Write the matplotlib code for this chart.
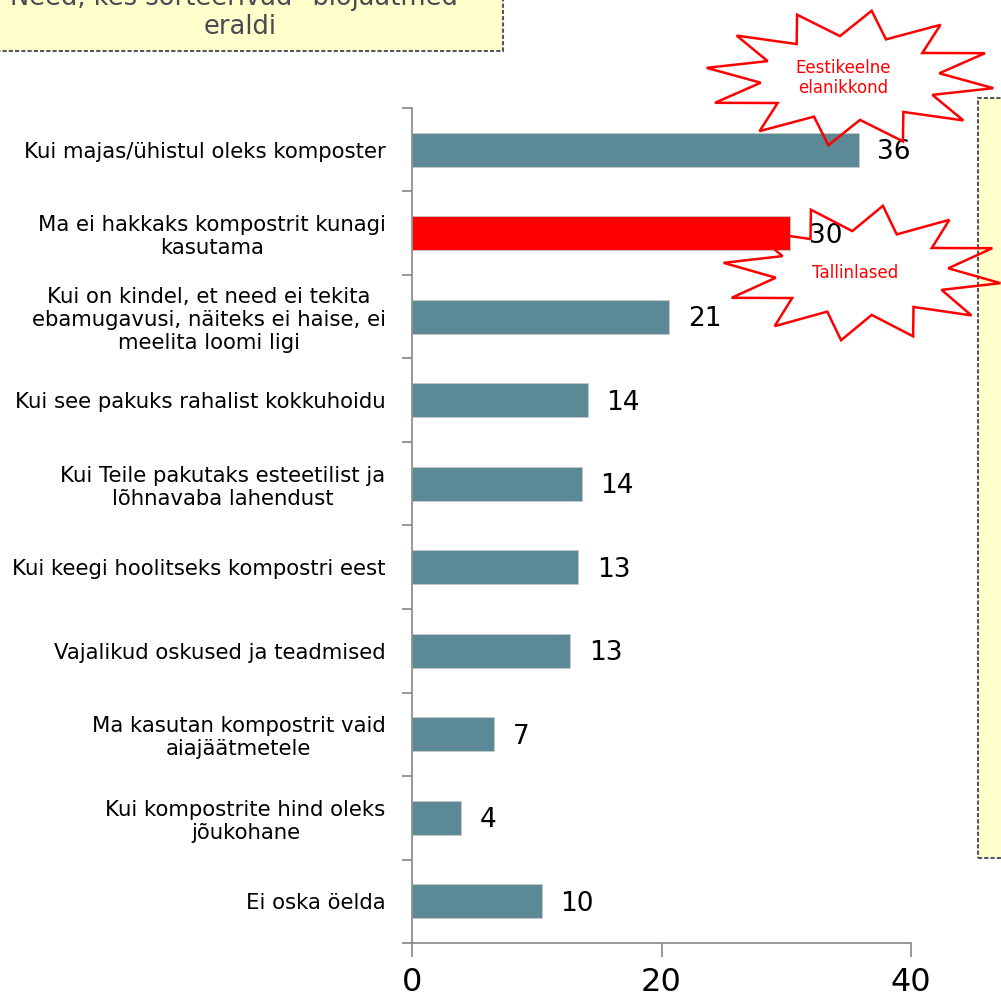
import numpy as np
import matplotlib.pyplot as plt
from matplotlib.patches import Polygon, Rectangle

# Survey answers (share of respondents, %)
categories = [
    "Kui majas/ühistul oleks komposter",
    "Ma ei hakkaks kompostrit kunagi\nkasutama",
    "Kui on kindel, et need ei tekita\nebamugavusi, näiteks ei haise, ei\nmeelita loomi ligi",
    "Kui see pakuks rahalist kokkuhoidu",
    "Kui Teile pakutaks esteetilist ja\nlõhnavaba lahendust",
    "Kui keegi hoolitseks kompostri eest",
    "Vajalikud oskused ja teadmised",
    "Ma kasutan kompostrit vaid\naiajäätmetele",
    "Kui kompostrite hind oleks\njõukohane",
    "Ei oska öelda",
]
values = [35.8, 30.3, 20.6, 14.1, 13.6, 13.3, 12.7, 6.6, 3.9, 10.4]
value_labels = ["36", "30", "21", "14", "14", "13", "13", "7", "4", "10"]
highlight = "Ma ei hakkaks kompostrit kunagi\nkasutama"
xticks = [0, 20, 40]

bar_color = "#5B8A96"
red = "#FF0000"
axis_gray = "#868686"

fig = plt.figure(figsize=(10.01, 9.99), dpi=100)
ax = fig.add_axes([0.4116, 0.056, 0.4985, 0.836])

y = np.arange(len(categories))
colors = [red if c == highlight else bar_color for c in categories]
ax.barh(y, values, height=0.41, color=colors, edgecolor="#c8c8c8", linewidth=0.6)

for yi, v, lab in zip(y, values, value_labels):
    ax.text(v + 1.5, yi + 0.03, lab, va="center", ha="left", fontsize=19, color="black")

ax.set_xlim(0, 40)
ax.set_ylim(len(categories) - 0.5, -0.5)
ax.set_xticks(xticks)
ax.set_xticklabels([str(t) for t in xticks], fontsize=23)
ax.set_yticks(np.arange(len(categories) + 1) - 0.5)
ax.set_yticklabels([])
ax.set_yticks(y, minor=True)
ax.set_yticklabels(categories, minor=True, fontsize=15.3, ha="right",
                   multialignment="center")
ax.tick_params(axis="y", which="minor", length=0, pad=19)
ax.tick_params(axis="y", which="major", length=7, color=axis_gray, width=1.2)
ax.tick_params(axis="x", length=10, color=axis_gray, width=1.2, pad=7)
for side in ["top", "right"]:
    ax.spines[side].set_visible(False)
for side in ["left", "bottom"]:
    ax.spines[side].set_color(axis_gray)
    ax.spines[side].set_linewidth(1.2)

# title box (top left, cut by the page edge)
fig.patches.append(Rectangle((-0.01, 0.949), 0.512, 0.07, transform=fig.transFigure,
                             facecolor="#FFFFCC", edgecolor="#555560", linewidth=1.5,
                             linestyle=(0, (2, 1))))
fig.text(0.24, 0.987, 'Need, kes sorteerivad "biojäätmed"\neraldi', ha="center",
         va="center", fontsize=18.5, color="#4A4A55", linespacing=1.15)

# note box on the right
fig.patches.append(Rectangle((0.977, 0.141), 0.05, 0.761, transform=fig.transFigure,
                             facecolor="#FFFFCC", edgecolor="#555560", linewidth=1.5,
                             linestyle=(0, (2, 1))))


def star(cx, cy, rx, ry, n, inner, rot):
    ang = np.linspace(0, 2 * np.pi, 2 * n, endpoint=False) + rot
    r = np.where(np.arange(2 * n) % 2 == 0, 1.0, inner)
    return np.column_stack([cx + rx * r * np.cos(ang), cy + ry * r * np.sin(ang)])


for (cx, cy, rx, ry, txt) in [(850, 78, 145, 68, "Eestikeelne\nelanikkond"),
                              (862, 273, 140, 68, "Tallinlased")]:
    pts = star(cx, cy, rx, ry, 12, 0.62, 0.15)
    pts = np.column_stack([pts[:, 0] / 1001, 1 - pts[:, 1] / 999])
    fig.patches.append(Polygon(pts, closed=True, transform=fig.transFigure,
                               facecolor="none", edgecolor=red, linewidth=1.8,
                               zorder=5))
    fig.text(cx / 1001 - 0.007, 1 - cy / 999, txt, ha="center", va="center",
             fontsize=12, color=red, linespacing=1.1)

fig.savefig("out.png", dpi=100)
